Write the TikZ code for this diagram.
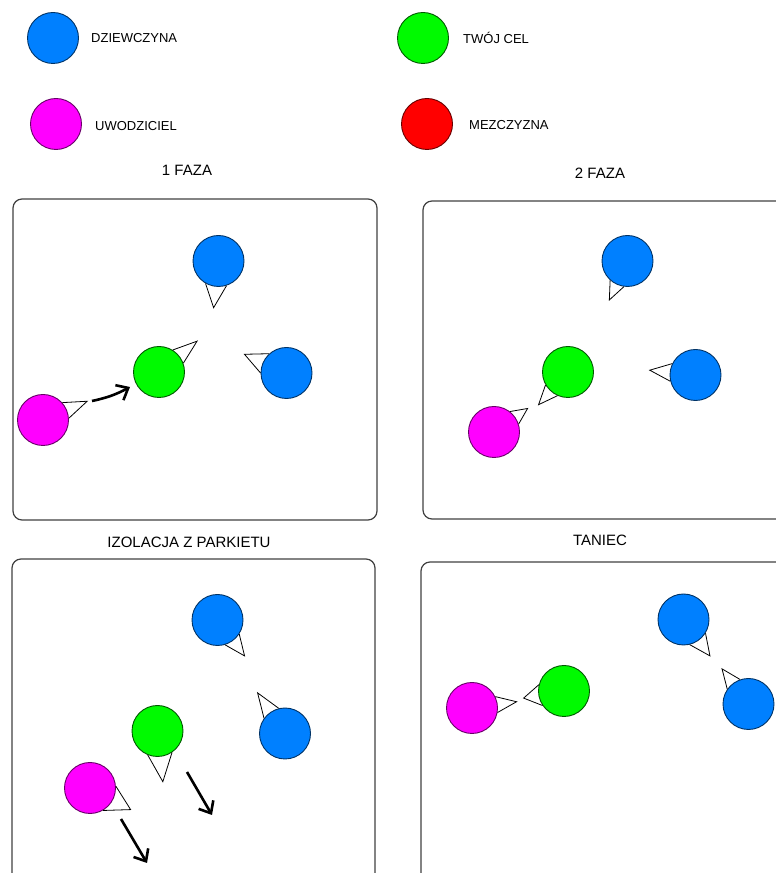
\documentclass[tikz,border=0pt]{standalone}
\usepackage{fontspec}
\setmainfont{Liberation Sans}
\usepackage{tikz}
\usepackage{xcolor}
\usetikzlibrary{calc, arrows.meta}
\definecolor{girlblue}{RGB}{0,128,255}
\definecolor{targetgreen}{RGB}{0,250,0}
\definecolor{seducermag}{RGB}{255,0,255}
\definecolor{manred}{RGB}{255,0,0}
\tikzstyle{dancer} = [circle, minimum size=51pt, inner sep=0pt, line width=0.9pt]
\tikzstyle{girl} = [dancer, fill=girlblue, draw=girlblue!40!black]
\tikzstyle{target} = [dancer, fill=targetgreen, draw=targetgreen!35!black]
\tikzstyle{seducer} = [dancer, fill=seducermag, draw=seducermag!40!black]
\tikzstyle{man} = [dancer, fill=manred, draw=manred!40!black]
\tikzstyle{legend} = [anchor=west, inner sep=0pt, font=\fontsize{13}{13}\selectfont]
\tikzstyle{phase} = [inner sep=0pt, font=\fontsize{15}{15}\selectfont]
\tikzstyle{floor} = [draw=black!75, line width=1.2pt, rounded corners=9pt]
\tikzstyle{cone} = [black, line width=0.8pt]
\tikzstyle{move} = [black, line width=2.6pt, -{Straight Barb[length=10pt,width=17pt]}]
\newcommand{\gaze}[4]{\draw[cone] (#1.{#2-#4}) -- ($(#1.center)+(#2:#3)$) -- (#1.{#2+#4});}

\begin{document}
\begin{tikzpicture}[x=1pt, y=1pt]
	\useasboundingbox (0,0) rectangle (776,873);
	\begin{scope}
		\clip (0,0) rectangle (776,873);
		% legenda
		\node (legGirl) [girl] at (53,835) {};
		\node (legGirlText) [legend] at (91,835) {DZIEWCZYNA};
		\node (legSeducer) [seducer] at (56,749) {};
		\node (legSeducerText) [legend] at (95,747) {UWODZICIEL};
		\node (legTarget) [target] at (423,835) {};
		\node (legTargetText) [legend] at (463,835) {TWÓJ CEL};
		\node (legMan) [man] at (427,749) {};
		\node (legManText) [legend] at (469,748) {MEZCZYZNA};
		
		\node (phaseOne) [phase] at (187,703) {1 FAZA};
		\node (phaseTwo) [phase] at (600,700) {2 FAZA};
		\node (phaseThree) [phase] at (189,331) {IZOLACJA Z PARKIETU};
		\node (phaseFour) [phase] at (600,333) {TANIEC};
		
		\draw [floor] (13,674) rectangle (377,353);
		\draw [floor] (423,672) rectangle (800,354);
		\draw [floor] (12,314) rectangle (375,-30);
		\draw [floor] (421,311) rectangle (800,-30);
		
		% 1 faza
		\node (girlA) [girl] at (218.5,612) {};
		\node (targetA) [target] at (159,501) {};
		\node (girlB) [girl] at (286.5,500) {};
		\node (seducerA) [seducer] at (43,453) {};
		\gaze{girlA}{264}{47}{24}
		\gaze{targetA}{39}{49}{19}
		\gaze{girlB}{156}{46}{24}
		\gaze{seducerA}{23}{48}{19}
		\coordinate (moveAs) at (92,472);
		\coordinate (moveAe) at (130,486);
		\draw [move] (moveAs) to[bend right=8] (moveAe);
		
		% 2 faza
		\node (girlC) [girl] at (627.5,612) {};
		\node (targetB) [target] at (568,501) {};
		\node (girlD) [girl] at (695.5,498) {};
		\node (seducerB) [seducer] at (494,441) {};
		\gaze{girlC}{245}{43}{17}
		\gaze{targetB}{228}{44}{18}
		\gaze{girlD}{174}{46}{20}
		\gaze{seducerB}{35}{41}{17}
		
		% izolacja
		\node (girlE) [girl] at (217.5,253) {};
		\node (targetC) [target] at (157.5,142) {};
		\node (girlF) [girl] at (285,139.5) {};
		\node (seducerC) [seducer] at (90,85) {};
		\gaze{girlE}{307}{45}{20}
		\gaze{targetC}{276}{51}{28}
		\gaze{girlF}{124}{49}{20}
		\gaze{seducerC}{332}{46}{32}
		\coordinate (moveBs) at (187,101);
		\coordinate (moveBe) at (212,58);
		\coordinate (moveCs) at (121,54);
		\coordinate (moveCe) at (147,10);
		\draw [move] (moveBs) -- (moveBe);
		\draw [move] (moveCs) -- (moveCe);
		
		% taniec
		\node (seducerD) [seducer] at (472,165) {};
		\node (targetD) [target] at (564,182) {};
		\node (girlG) [girl] at (683.5,253.5) {};
		\node (girlH) [girl] at (748.5,169) {};
		\gaze{seducerD}{8}{45}{18}
		\gaze{targetD}{190}{41}{24}
		\gaze{girlG}{306}{45}{22}
		\gaze{girlH}{127}{44}{18}
	\end{scope}
\end{tikzpicture}
\end{document}
